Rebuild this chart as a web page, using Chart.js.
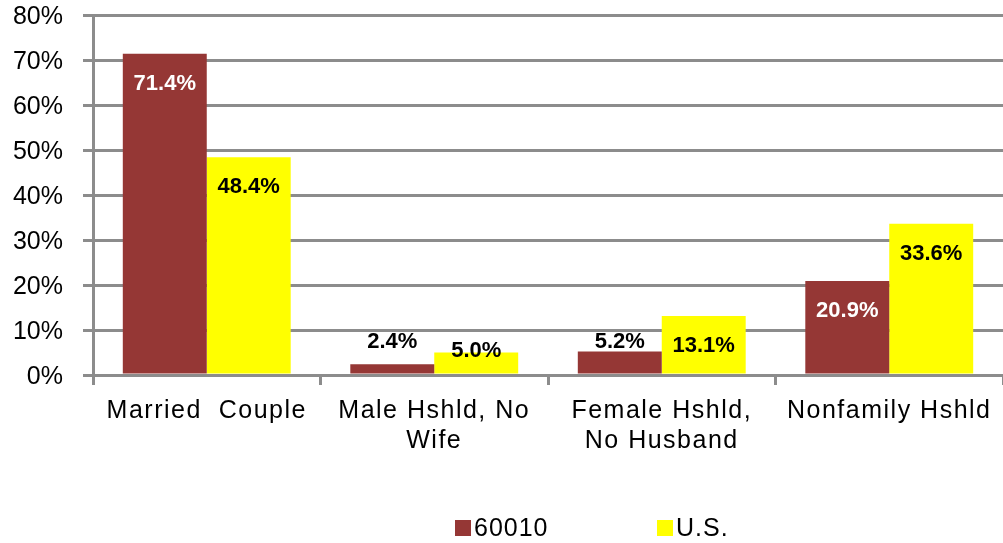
<!DOCTYPE html>
<html>
<head>
<meta charset="utf-8">
<script src="https://cdn.jsdelivr.net/npm/chart.js@4/dist/chart.umd.min.js"></script>
<style>
  html, body { margin: 0; padding: 0; background: #fff; }
  #wrap { width: 1003px; height: 543px; }
</style>
</head>
<body>
<div id="wrap"><canvas id="grafico" width="1003" height="543"></canvas></div>
<script>
// --- DATOS ---
const categorias = [
    ['Married  Couple'],
    ['Male Hshld, No', 'Wife'],
    ['Female Hshld,', 'No Husband'],
    ['Nonfamily Hshld']
];
const serieNombres = ['60010', 'U.S.'];
const valores60010 = [71.4, 2.4, 5.2, 20.9];
const valoresUS = [48.4, 5.0, 13.1, 33.6];
const ticksY = [0, 10, 20, 30, 40, 50, 60, 70, 80];

const colores = ['#953735', '#FFFF00'];
const gris = '#8c8c8c';
const fuente = "'Liberation Sans', Arial, sans-serif";

// etiquetas de valor: dentro de la barra, o encima si la barra es corta
const etiquetasPlugin = {
    id: 'etiquetas',
    afterDatasetsDraw(chart) {
        const ctx = chart.ctx;
        const base = chart.scales.y.getPixelForValue(0);
        const tope = [33, 24];
        ctx.save();
        ctx.font = 'bold 22px ' + fuente;
        ctx.textAlign = 'center';
        ctx.textBaseline = 'middle';
        chart.data.datasets.forEach((ds, i) => {
            chart.getDatasetMeta(i).data.forEach((bar, j) => {
                const dentro = bar.y + 30;
                const limite = base - tope[i];
                const y = Math.min(dentro, limite);
                ctx.fillStyle = (i === 0 && dentro <= limite) ? '#ffffff' : '#000000';
                ctx.fillText(ds.data[j].toFixed(1) + '%', bar.x, y);
            });
        });
        ctx.restore();
    }
};

// etiquetas del eje X y leyenda
const textosPlugin = {
    id: 'textos',
    afterDraw(chart) {
        const ctx = chart.ctx;
        const x = chart.scales.x;
        ctx.save();
        ctx.fillStyle = '#000';
        ctx.textAlign = 'center';
        ctx.textBaseline = 'middle';
        ctx.font = '25px ' + fuente;
        ctx.letterSpacing = '1.5px';
        categorias.forEach((lineas, i) => {
            const cx = x.getPixelForValue(i);
            lineas.forEach((t, k) => ctx.fillText(t, cx, 411 + k * 30));
        });

        // leyenda
        ctx.letterSpacing = '1px';
        ctx.textAlign = 'left';
        const inicios = [455, 657];
        serieNombres.forEach((nombre, i) => {
            ctx.fillStyle = colores[i];
            ctx.fillRect(inicios[i], 520, 16, 16);
            ctx.fillStyle = '#000';
            ctx.fillText(nombre, inicios[i] + 19, 529);
        });
        ctx.restore();
    }
};

new Chart(document.getElementById('grafico'), {
    type: 'bar',
    data: {
        labels: categorias,
        datasets: [
            { label: serieNombres[0], data: valores60010, backgroundColor: colores[0] },
            { label: serieNombres[1], data: valoresUS, backgroundColor: colores[1] }
        ]
    },
    options: {
        responsive: false,
        animation: false,
        events: [],
        categoryPercentage: 0.738,
        barPercentage: 1,
        layout: { padding: { top: 15, right: 0, bottom: 0, left: 0 } },
        plugins: { legend: { display: false }, tooltip: { enabled: false } },
        scales: {
            x: {
                grid: { drawOnChartArea: false, color: gris, lineWidth: 3, tickLength: 10, offset: true },
                border: { color: gris, width: 3 },
                ticks: { display: false },
                afterFit: s => { s.height = 168; s.paddingLeft = 0; s.paddingRight = 0; }
            },
            y: {
                min: 0,
                max: 80,
                afterBuildTicks: s => { s.ticks = ticksY.map(v => ({ value: v })); },
                grid: { color: gris, lineWidth: 3, tickLength: 10 },
                border: { color: gris, width: 3 },
                ticks: {
                    padding: 20,
                    labelOffset: 2,
                    color: '#000',
                    font: { family: fuente, size: 25 },
                    callback: v => v + '%'
                },
                afterFit: s => { s.width = 93; s.paddingTop = 0; s.paddingBottom = 0; }
            }
        }
    },
    plugins: [etiquetasPlugin, textosPlugin]
});
</script>
</body>
</html>
